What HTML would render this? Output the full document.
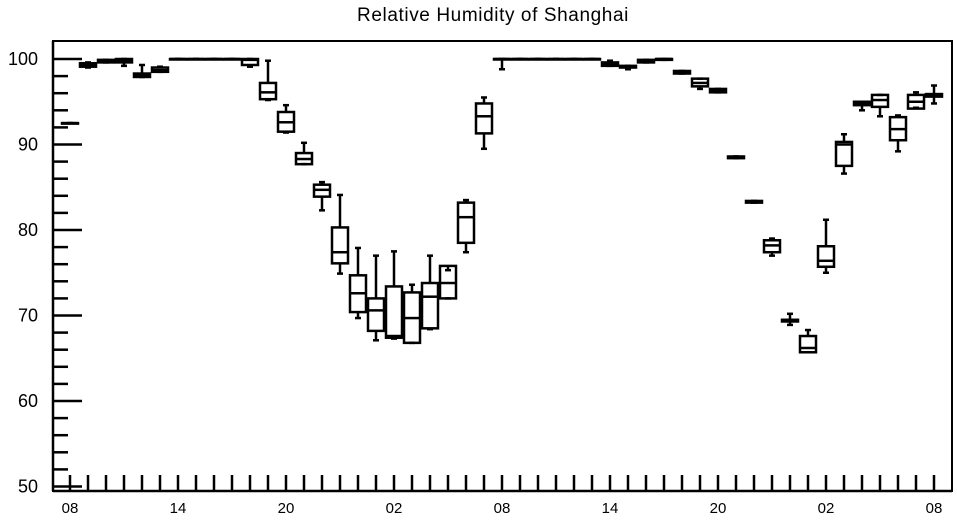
<!DOCTYPE html>
<html><head><meta charset="utf-8"><style>
body{margin:0;background:#fff;width:957px;height:520px;overflow:hidden}
svg text{font-family:"Liberation Sans",sans-serif;fill:#000}
</style></head><body>
<svg id="chart" width="957" height="520" xmlns="http://www.w3.org/2000/svg">
<text x="493" y="21" font-size="19" letter-spacing="0.6" text-anchor="middle">Relative Humidity of Shanghai</text>
<rect x="53" y="41" width="899" height="450" fill="none" stroke="#000" stroke-width="2"/>
<g id="axes"></g><g id="marks"></g>
</svg>
<script>
const xLabels=["08","14","20","02","08","14","20","02","08"];
const yTicks=[50,60,70,80,90,100];
const mins=[92.5,99.0,99.6,99.2,97.9,98.5,100,100,100,100,99.1,95.2,91.4,87.7,82.3,74.9,69.7,67.1,67.3,66.8,68.4,72.0,77.4,89.5,98.8,100,100,100,100,100,99.2,98.8,99.6,99.9,98.3,96.5,96.1,88.4,83.2,77.0,68.9,65.7,75.0,86.6,94.0,93.3,89.2,94.3,94.8];
const q1s=[92.5,99.1,99.6,99.6,97.9,98.5,100,100,100,100,99.3,95.3,91.5,87.7,83.9,76.1,70.4,68.2,67.4,66.8,68.5,72.0,78.5,91.3,100,100,100,100,100,100,99.2,99.0,99.6,99.9,98.3,96.8,96.1,88.4,83.2,77.4,69.3,65.7,75.7,87.5,94.6,94.4,90.5,94.2,95.6];
const medians=[92.5,99.3,99.8,99.8,98.1,98.7,100,100,100,100,99.9,96.1,92.6,88.3,84.7,77.4,72.6,70.6,67.6,69.7,72.2,73.8,81.5,93.3,100,100,100,100,100,100,99.4,99.1,99.8,100,98.5,97.2,96.3,88.5,83.3,78.2,69.4,66.2,76.4,90.0,94.8,95.2,91.8,95.0,95.7];
const q3s=[92.5,99.5,99.9,100,98.3,99.0,100,100,100,100,100,97.2,93.8,89.0,85.3,80.3,74.7,72.0,73.4,72.7,73.8,75.8,83.2,94.8,100,100,100,100,100,100,99.6,99.2,99.9,100,98.6,97.7,96.5,88.6,83.4,78.8,69.5,67.6,78.1,90.3,95.0,95.8,93.2,95.8,95.9];
const maxs=[92.5,99.6,99.9,100,99.3,99.1,100,100,100,100,100,99.8,94.6,90.2,85.6,84.1,77.9,77.0,77.5,73.6,77.0,75.3,83.5,95.5,100,100,100,100,100,100,99.8,99.2,99.9,100,98.6,97.7,96.5,88.6,83.4,79.0,70.2,68.3,81.2,91.2,95.0,95.8,93.4,96.1,96.9];
const NS="http://www.w3.org/2000/svg";
const X=i=>70+18*i, Y=v=>59+(100-v)*8.55;
function mk(tag,attrs,parent){const e=document.createElementNS(NS,tag);for(const k in attrs)e.setAttribute(k,attrs[k]);parent.appendChild(e);return e;}
const ax=document.getElementById('axes'), mg=document.getElementById('marks');
const S={stroke:"#000","stroke-width":2.5};
for(let v=50;v<=100;v+=2){const major=v%10===0;
 const t=mk('line',Object.assign({x1:53,x2:major?82:68,y1:Y(v),y2:Y(v)},S),ax);
 
 }
yTicks.forEach(v=>{const t=mk('text',{x:38,y:Y(v)+6,"font-size":18,"text-anchor":"end"},ax);t.textContent=v;
 
 });
for(let i=0;i<mins.length;i++){const t=mk('line',Object.assign({x1:X(i),x2:X(i),y1:491,y2:475},S),ax);
 
 }
xLabels.forEach((l,k)=>{const t=mk('text',{x:X(k*6),y:513,"font-size":15,"text-anchor":"middle"},ax);t.textContent=l;
 
 });
mk('line',Object.assign({x1:53,x2:53,y1:41,y2:491},S),ax);
mk('line',Object.assign({x1:53,x2:952,y1:491,y2:491},S),ax);
for(let i=0;i<mins.length;i++){
 const g=mk('g',{},mg);
 
 
 const x=X(i),w=8,c=3;
 mk('line',Object.assign({x1:x,x2:x,y1:Y(maxs[i]),y2:Y(q3s[i])},S),g);
 mk('line',Object.assign({x1:x,x2:x,y1:Y(q1s[i]),y2:Y(mins[i])},S),g);
 mk('line',Object.assign({x1:x-c,x2:x+c,y1:Y(maxs[i]),y2:Y(maxs[i])},S),g);
 mk('line',Object.assign({x1:x-c,x2:x+c,y1:Y(mins[i]),y2:Y(mins[i])},S),g);
 mk('rect',Object.assign({x:x-w,y:Y(q3s[i]),width:2*w,height:Math.max(0.5,Y(q1s[i])-Y(q3s[i])),fill:"none"},S),g);
 mk('line',Object.assign({x1:x-w,x2:x+w,y1:Y(medians[i]),y2:Y(medians[i])},S),g);
}
</script>
</body></html>
